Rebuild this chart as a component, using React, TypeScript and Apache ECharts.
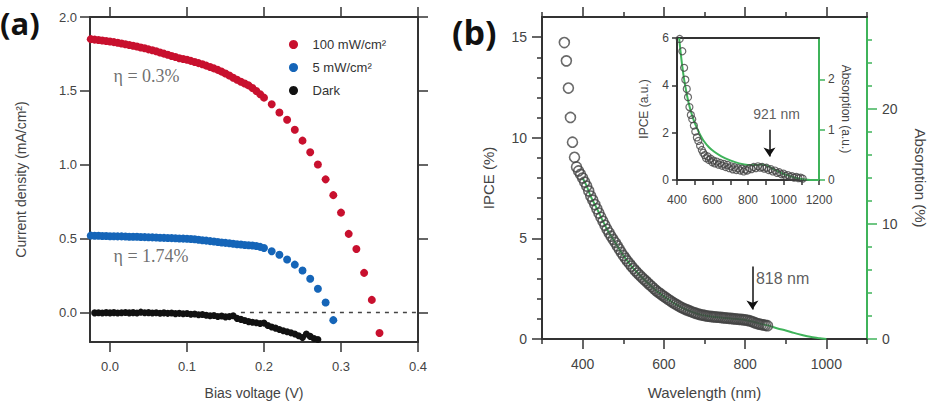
import React, { useEffect, useRef } from 'react';
import * as echarts from 'echarts';

// ---- (a) J–V curves: [bias voltage (V), current density (mA/cm²)] ----
const illum100: [number, number][] = [
  [-0.025, 1.850], [-0.020, 1.847], [-0.015, 1.844], [-0.010, 1.841], [-0.005, 1.838],
  [0.000, 1.834], [0.005, 1.830], [0.010, 1.826], [0.015, 1.821], [0.020, 1.816],
  [0.025, 1.811], [0.030, 1.805], [0.035, 1.800], [0.040, 1.794], [0.045, 1.788],
  [0.050, 1.781], [0.055, 1.775], [0.060, 1.768], [0.065, 1.760], [0.070, 1.752],
  [0.075, 1.744], [0.080, 1.736], [0.085, 1.729], [0.090, 1.721], [0.095, 1.716],
  [0.100, 1.711], [0.105, 1.703], [0.110, 1.695], [0.115, 1.688], [0.120, 1.680],
  [0.125, 1.671], [0.130, 1.662], [0.135, 1.652], [0.140, 1.642], [0.145, 1.630],
  [0.150, 1.618], [0.155, 1.604], [0.160, 1.589], [0.165, 1.575], [0.170, 1.562],
  [0.175, 1.550], [0.180, 1.537], [0.185, 1.519], [0.190, 1.499], [0.195, 1.477],
  [0.200, 1.454], [0.210, 1.409], [0.220, 1.354], [0.230, 1.304], [0.240, 1.237],
  [0.250, 1.163], [0.260, 1.085], [0.270, 1.002], [0.280, 0.901], [0.290, 0.794],
  [0.300, 0.676], [0.310, 0.532], [0.320, 0.430], [0.330, 0.268], [0.340, 0.085],
  [0.350, -0.139],
];

const illum5: [number, number][] = [
  [-0.025, 0.520], [-0.020, 0.519], [-0.015, 0.519], [-0.010, 0.518], [-0.005, 0.517],
  [0.000, 0.516], [0.005, 0.516], [0.010, 0.515], [0.015, 0.515], [0.020, 0.514],
  [0.025, 0.513], [0.030, 0.513], [0.035, 0.512], [0.040, 0.511], [0.045, 0.510],
  [0.050, 0.509], [0.055, 0.508], [0.060, 0.507], [0.065, 0.506], [0.070, 0.505],
  [0.075, 0.504], [0.080, 0.503], [0.085, 0.502], [0.090, 0.501], [0.095, 0.500],
  [0.100, 0.499], [0.105, 0.497], [0.110, 0.495], [0.115, 0.492], [0.120, 0.489],
  [0.125, 0.486], [0.130, 0.483], [0.135, 0.480], [0.140, 0.477], [0.145, 0.474],
  [0.150, 0.471], [0.155, 0.468], [0.160, 0.465], [0.165, 0.462], [0.170, 0.460],
  [0.175, 0.457], [0.180, 0.455], [0.185, 0.453], [0.190, 0.450], [0.195, 0.444],
  [0.200, 0.436], [0.210, 0.414], [0.220, 0.391], [0.230, 0.358], [0.240, 0.324],
  [0.250, 0.284], [0.260, 0.228], [0.270, 0.161], [0.280, 0.067], [0.290, -0.052],
];

const darkCurve: [number, number][] = [
  [-0.020, -0.003], [-0.015, -0.002], [-0.010, -0.004], [-0.005, -0.001], [0.000, -0.003],
  [0.005, -0.001], [0.010, -0.004], [0.015, -0.002], [0.020, 0.000], [0.025, -0.003],
  [0.030, -0.001], [0.035, -0.004], [0.040, 0.002], [0.045, -0.002], [0.050, -0.001],
  [0.055, -0.004], [0.060, -0.002], [0.065, -0.005], [0.070, -0.003], [0.075, -0.006],
  [0.080, -0.004], [0.085, -0.008], [0.090, -0.006], [0.095, -0.009], [0.100, -0.007],
  [0.105, -0.012], [0.110, -0.011], [0.115, -0.016], [0.120, -0.014], [0.125, -0.019],
  [0.130, -0.022], [0.135, -0.021], [0.140, -0.027], [0.145, -0.024], [0.150, -0.030],
  [0.155, -0.028], [0.160, -0.022], [0.165, -0.040], [0.170, -0.047], [0.175, -0.055],
  [0.180, -0.062], [0.185, -0.066], [0.190, -0.070], [0.195, -0.075], [0.200, -0.072],
  [0.205, -0.088], [0.210, -0.098], [0.215, -0.106], [0.220, -0.115], [0.225, -0.124],
  [0.230, -0.131], [0.235, -0.138], [0.240, -0.146], [0.245, -0.158], [0.250, -0.170],
  [0.255, -0.146], [0.260, -0.162], [0.265, -0.176], [0.270, -0.183],
];

const biasTicks = [0, 0.1, 0.2, 0.3, 0.4];
const currentTicks = [0, 0.5, 1.0, 1.5, 2.0];
const efficiencyNotes: [number, number, string][] = [
  [0.0, 1.6, 'η = 0.3%'],
  [0.0, 0.383, 'η = 1.74%'],
];

// ---- (b) IPCE (%) and absorption (%) versus wavelength (nm) ----
const ipceMain: [number, number][] = [
  [355, 14.73], [360, 13.82], [365, 12.47], [370, 11.01], [375, 9.78], [380, 9.03],
  [385, 8.55], [390, 8.35], [395, 8.18], [400, 8.00], [405, 7.80], [410, 7.60],
  [415, 7.36], [420, 7.10], [425, 6.90], [430, 6.68], [435, 6.47], [440, 6.26],
  [445, 6.05], [450, 5.85], [455, 5.65], [460, 5.45], [465, 5.28], [470, 5.11],
  [475, 4.95], [480, 4.80], [485, 4.63], [490, 4.47], [495, 4.31], [500, 4.15],
  [505, 4.01], [510, 3.88], [515, 3.75], [520, 3.62], [525, 3.50], [530, 3.39],
  [535, 3.28], [540, 3.18], [545, 3.08], [550, 2.98], [555, 2.89], [560, 2.80],
  [565, 2.70], [570, 2.61], [575, 2.51], [580, 2.42], [585, 2.34], [590, 2.27],
  [595, 2.19], [600, 2.12], [605, 2.05], [610, 1.98], [615, 1.91], [620, 1.84],
  [625, 1.78], [630, 1.72], [635, 1.66], [640, 1.60], [645, 1.55], [650, 1.50],
  [655, 1.46], [660, 1.42], [665, 1.38], [670, 1.34], [675, 1.30], [680, 1.27],
  [685, 1.24], [690, 1.21], [695, 1.19], [700, 1.17], [705, 1.15], [710, 1.13],
  [715, 1.12], [720, 1.11], [725, 1.10], [730, 1.09], [735, 1.08], [740, 1.07],
  [745, 1.06], [750, 1.05], [755, 1.04], [760, 1.03], [765, 1.02], [770, 1.01],
  [775, 1.00], [780, 0.99], [785, 0.98], [790, 0.97], [795, 0.96], [800, 0.95],
  [805, 0.93], [810, 0.91], [815, 0.88], [820, 0.84], [825, 0.80], [830, 0.77],
  [835, 0.74], [840, 0.72], [845, 0.70], [850, 0.68], [855, 0.66],
];

const absorptionMain: [number, number][] = [
  [400, 14.0], [410, 13.3], [420, 12.4], [430, 11.7], [440, 11.0], [450, 10.25],
  [460, 9.55], [470, 8.95], [480, 8.4], [490, 7.83], [500, 7.27], [510, 6.8],
  [520, 6.34], [530, 5.94], [540, 5.57], [550, 5.22], [560, 4.9], [570, 4.57],
  [580, 4.24], [590, 3.97], [600, 3.71], [610, 3.47], [620, 3.22], [630, 3.01],
  [640, 2.8], [650, 2.63], [660, 2.49], [670, 2.35], [680, 2.22], [690, 2.12],
  [700, 2.05], [720, 1.94], [740, 1.87], [760, 1.8], [780, 1.73], [800, 1.66],
  [820, 1.5], [840, 1.3], [860, 1.14], [880, 0.91], [900, 0.74], [920, 0.53],
  [940, 0.35], [960, 0.19], [980, 0.09], [1000, 0.0],
];

const wavelengthMajor = [400, 600, 800, 1000];
const wavelengthMinor = [300, 500, 700, 900, 1100];
const ipceMajor = [0, 5, 10, 15];
const ipceMinor = [1, 2, 3, 4, 6, 7, 8, 9, 11, 12, 13, 14];
const absorptionMajor = [0, 10, 20];
const absorptionMinor = [2, 4, 6, 8, 12, 14, 16, 18, 22, 24, 26];
const peakMain = 818;

// ---- inset: IPCE (a.u.) and absorption (a.u.) ----
const ipceInset: [number, number][] = [
  [415, 5.96], [430, 5.44], [440, 4.74], [447, 4.24], [455, 3.85], [462, 3.5],
  [470, 3.08], [478, 2.75], [486, 2.57], [495, 2.3], [503, 2.05], [512, 1.8],
  [520, 1.65], [530, 1.45], [540, 1.27], [548, 1.15], [556, 1.05], [564, 0.92],
  [572, 1.0], [580, 0.85], [590, 0.9], [598, 0.75], [606, 0.82], [614, 0.7],
  [624, 0.78], [634, 0.65], [644, 0.72], [654, 0.6], [664, 0.68], [674, 0.55],
  [684, 0.64], [694, 0.5], [704, 0.58], [714, 0.45], [724, 0.54], [734, 0.42],
  [744, 0.5], [756, 0.4], [766, 0.48], [776, 0.36], [786, 0.44], [796, 0.4],
  [808, 0.5], [820, 0.46], [832, 0.55], [844, 0.5], [856, 0.58], [868, 0.52],
  [880, 0.55], [892, 0.48], [904, 0.52], [916, 0.42], [928, 0.46], [940, 0.36],
  [952, 0.4], [964, 0.3], [976, 0.33], [988, 0.24], [1000, 0.27], [1012, 0.18],
  [1024, 0.21], [1036, 0.14], [1048, 0.16], [1060, 0.1], [1072, 0.13], [1084, 0.08],
  [1096, 0.1], [1108, 0.06],
];

const absorptionInset: [number, number][] = [
  [412, 2.82], [420, 2.55], [430, 2.25], [440, 2.0], [450, 1.8], [460, 1.62],
  [470, 1.47], [480, 1.34], [495, 1.18], [510, 1.05], [530, 0.9], [550, 0.78],
  [580, 0.65], [610, 0.56], [650, 0.47], [700, 0.39], [750, 0.33], [800, 0.3],
  [850, 0.3], [880, 0.31], [910, 0.28], [940, 0.22], [970, 0.17], [1000, 0.12],
  [1035, 0.08], [1070, 0.04], [1110, 0.015], [1150, 0.0], [1200, 0.0],
];

const insetXTicks = [400, 500, 600, 700, 800, 900, 1000, 1100, 1200];
const insetXLabels = [400, 600, 800, 1000, 1200];
const insetIpceTicks = [0, 2, 4, 6];
const insetAbsTicks = [0, 1, 2];
const peakInset = 921;

const FONT = '"Liberation Sans", Arial, Helvetica, sans-serif';
const LINE = '#333';
const TEXT = '#444';
const GREEN = '#3fb35a';
const RED = '#c8102e';
const BLUE = '#1565b8';
const DARK = '#111';

type AxisOpts = {
  grid: number;
  position: string;
  min: number;
  max: number;
  ticks?: number[];
  tickLen?: number;
  labels?: number[];
  fmt?: (v: number) => string;
  margin?: number;
  fontSize?: number;
  showLine?: boolean;
  color?: string;
  name?: string;
  nameGap?: number;
  nameRotate?: number;
  nameSize?: number;
};

function axis(o: AxisOpts) {
  const color = o.color || LINE;
  return {
    type: 'value',
    gridIndex: o.grid,
    position: o.position,
    min: o.min,
    max: o.max,
    splitLine: { show: false },
    axisLine: {
      show: o.showLine !== false,
      onZero: false,
      lineStyle: { color, width: 2 },
    },
    axisTick: o.ticks
      ? {
          show: true,
          inside: false,
          length: o.tickLen || 10,
          customValues: o.ticks,
          lineStyle: { color, width: 1.5 },
        }
      : { show: false },
    axisLabel: o.labels
      ? {
          show: true,
          customValues: o.labels,
          formatter: o.fmt || ((v: number) => String(v)),
          margin: o.margin ?? 10,
          fontSize: o.fontSize || 13,
          color: TEXT,
          fontFamily: FONT,
        }
      : { show: false },
    name: o.name || '',
    nameLocation: 'middle',
    nameGap: o.nameGap ?? 30,
    nameRotate: o.nameRotate,
    nameTextStyle: { fontSize: o.nameSize || 14, color: TEXT, fontFamily: FONT },
  };
}

function noteSeries(
  xi: number,
  yi: number,
  data: [number, number, string][],
  label: Record<string, unknown>,
  extra: Record<string, unknown> = {}
) {
  return {
    type: 'scatter',
    xAxisIndex: xi,
    yAxisIndex: yi,
    symbolSize: 1,
    itemStyle: { color: 'rgba(0,0,0,0)' },
    silent: true,
    z: 6,
    data,
    label: {
      show: true,
      formatter: (p: any) => p.data[2],
      ...label,
    },
    ...extra,
  };
}

function arrow(x: number, yFrom: number, yTo: number) {
  return {
    silent: true,
    symbol: ['none', 'arrow'],
    symbolSize: 9,
    label: { show: false },
    itemStyle: { color: '#111' },
    lineStyle: { color: '#111', width: 1.5, type: 'solid' },
    data: [[{ coord: [x, yFrom] }, { coord: [x, yTo] }]],
  };
}

export default function App() {
  const ref = useRef<HTMLDivElement>(null);

  useEffect(() => {
    if (!ref.current) return;
    const chart = echarts.init(ref.current, undefined, { renderer: 'svg' });

    const option = {
      animation: false,
      backgroundColor: '#fff',
      textStyle: { fontFamily: FONT },
      grid: [
        { left: 90, top: 17, width: 328, height: 328 },
        { left: 542, top: 17, width: 325, height: 326 },
        { left: 677, top: 38, width: 142, height: 142 },
      ],
      legend: {
        data: ['100 mW/cm²', '5 mW/cm²', 'Dark'],
        orient: 'vertical',
        left: 284,
        top: 33,
        itemWidth: 28,
        itemHeight: 9,
        itemGap: 10,
        icon: 'circle',
        selectedMode: false,
        textStyle: { fontSize: 13, color: '#333', fontFamily: FONT },
      },
      xAxis: [
        axis({
          grid: 0, position: 'bottom', min: -0.026, max: 0.4,
          ticks: biasTicks, labels: biasTicks, fmt: (v) => v.toFixed(1),
          margin: 18, fontSize: 13, name: 'Bias voltage (V)', nameGap: 44,
        }),
        axis({ grid: 0, position: 'top', min: -0.026, max: 0.4, ticks: biasTicks }),
        axis({
          grid: 1, position: 'bottom', min: 300, max: 1100,
          ticks: wavelengthMajor, labels: wavelengthMajor,
          margin: 18, fontSize: 14, name: 'Wavelength (nm)', nameGap: 46, nameSize: 15,
        }),
        axis({
          grid: 1, position: 'bottom', min: 300, max: 1100,
          ticks: wavelengthMinor, tickLen: 5, showLine: false,
        }),
        axis({ grid: 1, position: 'top', min: 300, max: 1100, ticks: wavelengthMajor }),
        axis({
          grid: 1, position: 'top', min: 300, max: 1100,
          ticks: wavelengthMinor, tickLen: 5, showLine: false,
        }),
        axis({
          grid: 2, position: 'bottom', min: 400, max: 1200,
          ticks: insetXTicks, tickLen: 5, labels: insetXLabels,
          margin: 14, fontSize: 12,
        }),
        axis({ grid: 2, position: 'top', min: 400, max: 1200 }),
      ],
      yAxis: [
        axis({
          grid: 0, position: 'left', min: -0.2, max: 2.0,
          ticks: currentTicks, labels: currentTicks, fmt: (v) => v.toFixed(1),
          margin: 13, fontSize: 13, name: 'Current density (mA/cm²)', nameGap: 62,
        }),
        axis({ grid: 0, position: 'right', min: -0.2, max: 2.0, ticks: currentTicks }),
        axis({
          grid: 1, position: 'left', min: 0, max: 16,
          ticks: ipceMajor, labels: ipceMajor, margin: 15, fontSize: 14,
          name: 'IPCE (%)', nameGap: 46, nameSize: 15,
        }),
        axis({
          grid: 1, position: 'left', min: 0, max: 16,
          ticks: ipceMinor, tickLen: 5, showLine: false,
        }),
        axis({
          grid: 1, position: 'right', min: 0, max: 28, color: GREEN,
          ticks: absorptionMajor, labels: absorptionMajor, margin: 15, fontSize: 14,
          name: 'Absorption (%)', nameGap: 46, nameRotate: -90, nameSize: 15,
        }),
        axis({
          grid: 1, position: 'right', min: 0, max: 28, color: GREEN,
          ticks: absorptionMinor, tickLen: 5, showLine: false,
        }),
        axis({
          grid: 2, position: 'left', min: 0, max: 6,
          ticks: insetIpceTicks, tickLen: 5, labels: insetIpceTicks,
          margin: 8, fontSize: 12, name: 'IPCE (a.u.)', nameGap: 27, nameSize: 12,
        }),
        axis({
          grid: 2, position: 'right', min: 0, max: 2.82, color: GREEN,
          ticks: insetAbsTicks, tickLen: 6, labels: insetAbsTicks,
          margin: 9, fontSize: 12, name: 'Absorption (a.u.)', nameGap: 21,
          nameRotate: -90, nameSize: 12,
        }),
      ],
      series: [
        {
          type: 'line',
          xAxisIndex: 0,
          yAxisIndex: 0,
          data: [[0.17, 0], [0.4, 0]],
          symbol: 'none',
          silent: true,
          z: 1,
          lineStyle: { color: '#444', width: 1.6, type: [4, 5] },
        },
        {
          name: '100 mW/cm²',
          type: 'scatter',
          xAxisIndex: 0,
          yAxisIndex: 0,
          symbolSize: 8,
          itemStyle: { color: RED, opacity: 1 },
          data: illum100,
          z: 3,
        },
        {
          name: '5 mW/cm²',
          type: 'scatter',
          xAxisIndex: 0,
          yAxisIndex: 0,
          symbolSize: 8,
          itemStyle: { color: BLUE, opacity: 1 },
          data: illum5,
          z: 3,
        },
        {
          name: 'Dark',
          type: 'scatter',
          xAxisIndex: 0,
          yAxisIndex: 0,
          symbolSize: 7,
          itemStyle: { color: DARK, opacity: 1 },
          data: darkCurve,
          z: 3,
        },
        noteSeries(0, 0, efficiencyNotes, {
          position: 'right',
          distance: 3,
          fontSize: 18,
          color: '#4a4a4a',
          fontFamily: '"Liberation Serif", "DejaVu Serif", serif',
        }),
        {
          type: 'line',
          xAxisIndex: 2,
          yAxisIndex: 4,
          data: absorptionMain,
          symbol: 'none',
          smooth: 0.3,
          silent: true,
          z: 2,
          lineStyle: { color: GREEN, width: 2 },
        },
        {
          type: 'scatter',
          xAxisIndex: 2,
          yAxisIndex: 2,
          symbol: 'circle',
          symbolSize: 10,
          data: ipceMain,
          z: 3,
          itemStyle: { color: 'rgba(255,255,255,0)', borderColor: '#444', borderWidth: 1.6 },
        },
        noteSeries(
          2, 2, [[peakMain, 3.0, `${peakMain} nm`]],
          { position: 'right', distance: 3, fontSize: 16, color: '#333' },
          { markLine: arrow(peakMain, 3.6, 1.47) }
        ),
        {
          type: 'line',
          xAxisIndex: 6,
          yAxisIndex: 7,
          data: absorptionInset,
          symbol: 'none',
          smooth: 0.3,
          silent: true,
          z: 2,
          lineStyle: { color: GREEN, width: 2 },
        },
        {
          type: 'scatter',
          xAxisIndex: 6,
          yAxisIndex: 6,
          symbol: 'circle',
          symbolSize: 7,
          data: ipceInset,
          z: 3,
          itemStyle: { color: 'rgba(255,255,255,0)', borderColor: '#444', borderWidth: 1.2 },
        },
        noteSeries(
          6, 6, [[peakInset + 40, 2.8, `${peakInset} nm`]],
          { position: 'inside', fontSize: 14, color: '#333' },
          { markLine: arrow(peakInset, 2.12, 0.99) }
        ),
      ],
      graphic: [
        {
          type: 'text',
          left: 0,
          top: 7,
          style: {
            text: '(a)',
            font: 'bold 31px "Open Sans", "DejaVu Sans", sans-serif',
            fill: '#111',
          },
        },
        {
          type: 'text',
          left: 452,
          top: 15,
          style: {
            text: '(b)',
            font: 'bold 34px "Open Sans", "DejaVu Sans", sans-serif',
            fill: '#111',
          },
        },
      ],
    };

    chart.setOption(option as any);
    return () => chart.dispose();
  }, []);

  return (
    <div
      ref={ref}
      style={{ position: 'absolute', left: 0, top: 0, width: 939, height: 405 }}
    />
  );
}
